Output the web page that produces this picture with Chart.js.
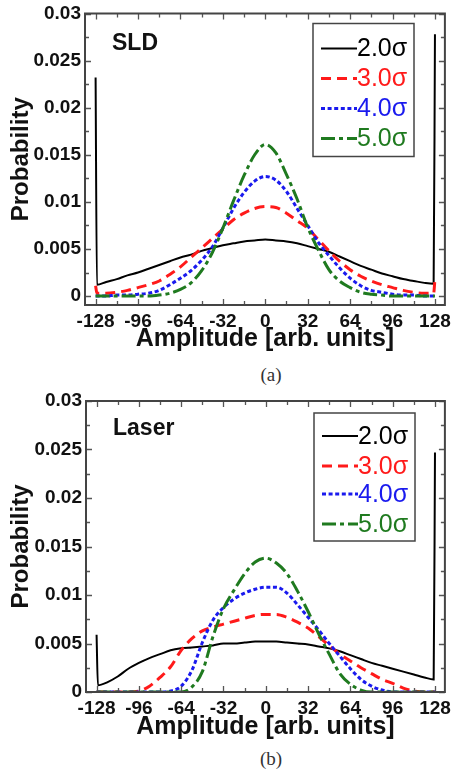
<!DOCTYPE html>
<html><head><meta charset="utf-8">
<script src="https://cdn.jsdelivr.net/npm/chart.js@4"></script>
<style>
html,body{margin:0;padding:0;background:#fff;}
body{width:458px;height:772px;position:relative;overflow:hidden;}
.wrap{position:absolute;left:0;width:458px;}
.cap{position:absolute;left:42px;width:458px;text-align:center;font-family:"Liberation Serif","DejaVu Serif",serif;font-size:19px;color:#333;line-height:24px;}
</style></head><body>
<div class="wrap" style="top:0;height:352px"><canvas id="c1"></canvas></div>
<div class="cap" style="top:363px">(a)</div>
<div class="wrap" style="top:386px;height:354px"><canvas id="c2"></canvas></div>
<div class="cap" style="top:747px">(b)</div>
<script>
// ---- data ----
const amplitude = [-128,-127,-120,-112,-104,-96,-88,-80,-72,-64,-56,-48,-40,-32,-24,-16,-8,0,8,16,24,32,40,48,56,64,72,80,88,96,104,112,120,127,128];
const seriesLabels = ['2.0\u03c3','3.0\u03c3','4.0\u03c3','5.0\u03c3'];

const sld_2s = [0.0232,0.0012,0.0015,0.0018,0.0022,0.0025,0.0029,0.0033,0.0037,0.0041,0.0044,0.0048,0.0051,0.0054,0.0056,0.0058,0.0059,0.0060,0.0059,0.0058,0.0056,0.0053,0.0050,0.0047,0.0042,0.0037,0.0032,0.0028,0.0024,0.0021,0.0018,0.0016,0.0014,0.0013,0.0278];
const sld_3s = [0.0011,0.0003,0.0003,0.0004,0.0006,0.0009,0.0012,0.0016,0.0023,0.0031,0.0041,0.0051,0.0061,0.0071,0.0081,0.0088,0.0093,0.0095,0.0094,0.0088,0.0080,0.0072,0.0060,0.0048,0.0037,0.0028,0.0021,0.0016,0.0012,0.0009,0.0006,0.0004,0.0003,0.0003,0.0018];
const sld_4s = [0,0,0,0.0001,0.0001,0.0002,0.0003,0.0006,0.0012,0.0019,0.0027,0.0038,0.0052,0.0072,0.0093,0.0110,0.0122,0.0127,0.0123,0.0111,0.0093,0.0075,0.0057,0.0043,0.0030,0.0019,0.0011,0.0006,0.0004,0.0002,0.0001,0.0001,0,0,0];
const sld_5s = [0,0,0,0,0,0,0,0.0001,0.0003,0.0007,0.0014,0.0027,0.0046,0.0072,0.0101,0.0128,0.0150,0.0161,0.0152,0.0129,0.0103,0.0073,0.0049,0.0028,0.0016,0.0009,0.0004,0.0002,0.0001,0,0,0,0,0,0];

const laser_2s = [0.0059,0.0007,0.0010,0.0016,0.0024,0.0030,0.0035,0.0039,0.0043,0.0045,0.0046,0.0047,0.0048,0.0050,0.0050,0.0051,0.0052,0.0052,0.0052,0.0051,0.0050,0.0049,0.0047,0.0045,0.0042,0.0038,0.0034,0.0030,0.0027,0.0024,0.0021,0.0018,0.0015,0.0013,0.0247];
const laser_3s = [0,0,0,0,0,0.0001,0.0006,0.0015,0.0026,0.0043,0.0055,0.0063,0.0067,0.0070,0.0073,0.0076,0.0079,0.0080,0.0080,0.0077,0.0072,0.0066,0.0057,0.0048,0.0039,0.0032,0.0025,0.0019,0.0013,0.0009,0.0004,0.0001,0,0,0];
const laser_4s = [0,0,0,0,0,0,0,0,0.0001,0.0006,0.0022,0.0051,0.0074,0.0087,0.0096,0.0102,0.0106,0.0108,0.0108,0.0102,0.0090,0.0077,0.0064,0.0050,0.0037,0.0024,0.0013,0.0006,0.0002,0,0,0,0,0,0];
const laser_5s = [0,0,0,0,0,0,0,0,0,0,0.0005,0.0021,0.0057,0.0086,0.0105,0.0122,0.0134,0.0138,0.0133,0.0122,0.0104,0.0083,0.0060,0.0039,0.0019,0.0008,0.0002,0,0,0,0,0,0,0,0];

const xTickValues = [-128,-96,-64,-32,0,32,64,96,128];
const xTickLabels = ['-128','-96','-64','-32','0','32','64','96','128'];
const xTickMarks = [-128,-112,-96,-80,-64,-48,-32,-16,0,16,32,48,64,80,96,112,128];
const yTickValues = [0,0.005,0.01,0.015,0.02,0.025,0.03];
const yTickLabels = ['0','0.005','0.01','0.015','0.02','0.025','0.03'];
const yTickMarks = [0,0.0025,0.005,0.0075,0.01,0.0125,0.015,0.0175,0.02,0.0225,0.025,0.0275,0.03];

// ---- styles ----
const styles = [
  {color:'#000000', dash:[], width:2},
  {color:'#ff1a1a', dash:[10,6], width:3},
  {color:'#1a1aee', dash:[4,2.6], width:3},
  {color:'#1f7a1f', dash:[14,4,4,4], width:3}
];

function makeDatasets(arrs){
  return arrs.map((vals,i)=>({
    label: seriesLabels[i],
    data: amplitude.map((a,k)=>({x:a, y:vals[k]})),
    borderColor: styles[i].color,
    borderDash: styles[i].dash,
    borderWidth: styles[i].width,
    pointRadius: 0,
    fill: false,
    cubicInterpolationMode: 'monotone',
    order: 4 - i
  }));
}

const framePlugin = {
  id: 'frame',
  afterDatasetsDraw(chart, args, opts){
    const {ctx, chartArea:a} = chart;
    const x = chart.scales.x, y = chart.scales.y;
    ctx.save();
    ctx.strokeStyle = '#555';
    ctx.lineWidth = 1.3;
    ctx.setLineDash([]);
    ctx.beginPath();
    xTickMarks.forEach(v=>{
      const p = Math.round(x.getPixelForValue(v))+0.5;
      const len = (v % 32 === 0) ? 6 : 4;
      ctx.moveTo(p, a.bottom); ctx.lineTo(p, a.bottom-len);
      ctx.moveTo(p, a.top); ctx.lineTo(p, a.top+len);
    });
    yTickMarks.forEach((v,i)=>{
      const p = Math.round(y.getPixelForValue(v))+0.5;
      const len = (i % 2 === 0) ? 6 : 4;
      ctx.moveTo(a.left, p); ctx.lineTo(a.left+len, p);
      ctx.moveTo(a.right, p); ctx.lineTo(a.right-len, p);
    });
    ctx.stroke();
    ctx.lineWidth = 2;
    ctx.strokeStyle = '#444';
    ctx.strokeRect(a.left, a.top, a.right-a.left, a.bottom-a.top);
    // panel label
    ctx.fillStyle = '#111';
    ctx.font = 'bold 23px "Liberation Sans", Arial, sans-serif';
    ctx.textBaseline = 'middle';
    ctx.textAlign = 'left';
    ctx.fillText(opts.panel, a.left+27, a.top+opts.panelDy);
    // legend box
    const bx = a.left+228, by = a.top+opts.boxTop, bw = 101, bh = opts.boxH;
    ctx.lineWidth = 1.5;
    ctx.strokeStyle = '#444';
    ctx.strokeRect(bx, by, bw, bh);
    ctx.font = '25px "Liberation Sans", Arial, sans-serif';
    chart.data.datasets.forEach((ds,i)=>{
      const cy = a.top + opts.rows[i];
      ctx.save();
      ctx.strokeStyle = ds.borderColor;
      ctx.lineWidth = ds.borderWidth;
      ctx.setLineDash(ds.borderDash);
      ctx.beginPath();
      ctx.moveTo(bx+8, cy); ctx.lineTo(bx+44, cy);
      ctx.stroke();
      ctx.restore();
      ctx.fillStyle = ds.borderColor;
      ctx.fillText(ds.label, bx+44, cy+1);
    });
    ctx.restore();
  }
};

function makeChart(id, arrs, yMin, pad, panelOpts){
  return new Chart(document.getElementById(id), {
    type: 'line',
    data: { datasets: makeDatasets(arrs) },
    options: {
      responsive: true,
      maintainAspectRatio: false,
      animation: false,
      events: [],
      layout: { padding: pad },
      plugins: { legend:{display:false}, tooltip:{enabled:false}, frame: panelOpts },
      scales: {
        x: {
          type: 'linear', min: -136, max: 135.5,
          grid: { display:false, drawTicks:false },
          border: { display:false },
          afterBuildTicks: s => { s.ticks = xTickValues.map(v=>({value:v})); },
          afterFit: s => { s.height = panelOpts.xAxisH; },
          ticks: {
            callback: (v,i) => xTickLabels[i],
            padding: 7, maxRotation: 0, autoSkip: false,
            color: '#111',
            font: { family: '"Liberation Sans", Arial, sans-serif', size: 19, weight: 'bold', lineHeight: 1 }
          },
          title: {
            display: true, text: 'Amplitude [arb. units]', color: '#111',
            padding: {top:0, bottom:0},
            font: { family: '"Liberation Sans", Arial, sans-serif', size: 25, weight: 'bold', lineHeight: 1 }
          }
        },
        y: {
          type: 'linear', min: yMin, max: 0.03,
          grid: { display:false, drawTicks:false },
          border: { display:false },
          afterBuildTicks: s => { s.ticks = yTickValues.map(v=>({value:v})); },
          afterFit: s => { s.width = panelOpts.yAxisW; },
          ticks: {
            callback: (v,i) => yTickLabels[i],
            padding: 4, autoSkip: false,
            color: '#111',
            font: { family: '"Liberation Sans", Arial, sans-serif', size: 19, weight: 'bold', lineHeight: 1 }
          },
          title: {
            display: true, text: 'Probability', color: '#111',
            padding: {top:9, bottom:0},
            font: { family: '"Liberation Sans", Arial, sans-serif', size: 24, weight: 'bold', lineHeight: 1 }
          }
        }
      }
    },
    plugins: [framePlugin]
  });
}

makeChart('c1', [sld_2s, sld_3s, sld_4s, sld_5s], -0.00095,
  {top:13, right:7, bottom:0, left:0},
  {panel:'SLD', panelDy:30, boxTop:10, boxH:133, rows:[35,65,95,125], xAxisH:47, yAxisW:85});
makeChart('c2', [laser_2s, laser_3s, laser_4s, laser_5s], 0,
  {top:15, right:6, bottom:0, left:0},
  {panel:'Laser', panelDy:28, boxTop:12, boxH:128, rows:[35,65,93,123], xAxisH:48, yAxisW:86});
</script>
</body></html>
